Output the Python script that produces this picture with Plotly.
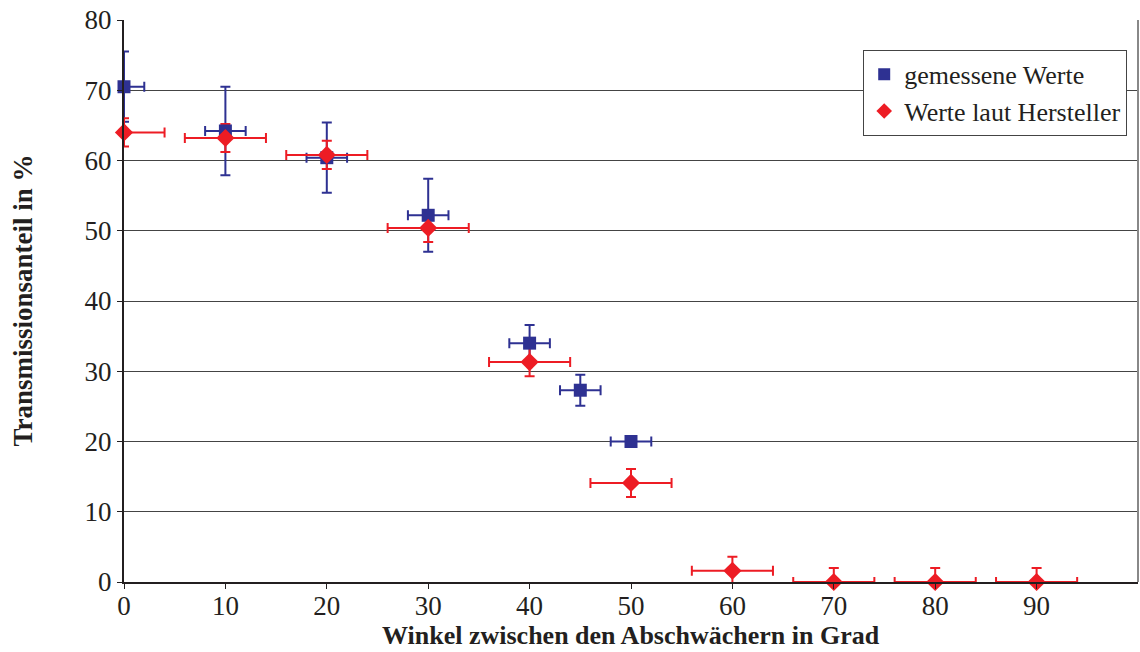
import plotly.graph_objects as go

# measured values (blue)
x_meas = [0, 10, 20, 30, 40, 45, 50]
y_meas = [70.5, 64.2, 60.4, 52.2, 34.0, 27.3, 20.0]
ey_meas = [5.0, 6.3, 5.0, 5.2, 2.6, 2.2, 0.5]
ex_meas = [2, 2, 2, 2, 2, 2, 2]

# manufacturer values (red)
x_man = [0, 10, 20, 30, 40, 50, 60, 70, 80, 90]
y_man = [64.0, 63.2, 60.8, 50.4, 31.3, 14.1, 1.6, 0, 0, 0]
ey_man = [2, 2, 2, 2, 2, 2, 2, 2, 2, 2]
ex_man = [4, 4, 4, 4, 4, 4, 4, 4, 4, 4]

x_ticks = [0, 10, 20, 30, 40, 50, 60, 70, 80, 90]
y_ticks = [0, 10, 20, 30, 40, 50, 60, 70, 80]

x_title = "Winkel zwischen den Abschwächern in Grad"
y_title = "Transmissionsanteil in %"

BLUE = "#2E3192"
RED = "#ED1C24"
FONT = "Liberation Serif, Times New Roman, serif"

fig = go.Figure()

# error bars (clipped to plot area)
fig.add_trace(go.Scatter(
    x=x_meas, y=y_meas, mode="markers", showlegend=False, hoverinfo="skip",
    marker=dict(size=1, color="rgba(0,0,0,0)"),
    error_y=dict(type="data", array=ey_meas, color=BLUE, thickness=2, width=5),
    error_x=dict(type="data", array=ex_meas, color=BLUE, thickness=2, width=5),
))
fig.add_trace(go.Scatter(
    x=x_man, y=y_man, mode="markers", showlegend=False, hoverinfo="skip",
    marker=dict(size=1, color="rgba(0,0,0,0)"),
    error_y=dict(type="data", array=ey_man, color=RED, thickness=2, width=5),
    error_x=dict(type="data", array=ex_man, color=RED, thickness=2, width=5),
))
# markers (not clipped)
fig.add_trace(go.Scatter(
    x=x_meas, y=y_meas, mode="markers", name="gemessene Werte", cliponaxis=False,
    marker=dict(symbol="square", size=13, color=BLUE),
))
fig.add_trace(go.Scatter(
    x=x_man, y=y_man, mode="markers", name="Werte laut Hersteller", cliponaxis=False,
    marker=dict(symbol="diamond", size=14, color=RED),
))

fig.update_layout(
    width=1140, height=652,
    margin=dict(l=124, r=2, t=20, b=70),
    paper_bgcolor="white", plot_bgcolor="white",
    font=dict(family=FONT, size=27, color="#231F20"),
    legend=dict(
        x=0.729, y=0.947, xanchor="left", yanchor="top",
        bgcolor="white", bordercolor="#444", borderwidth=1,
        font=dict(family=FONT, size=26, color="#231F20"),
        itemsizing="constant", tracegroupgap=0,
    ),
    xaxis=dict(
        range=[0, 100], tickvals=x_ticks, ticktext=[str(v) for v in x_ticks],
        showgrid=False, zeroline=False, automargin=False,
        showline=True, linecolor="#231F20", linewidth=2, mirror=False,
        ticks="outside", ticklen=5, tickcolor="#231F20",
        ticklabelstandoff=-6,
        tickfont=dict(family=FONT, size=27),
    ),
    yaxis=dict(
        range=[0, 80], tickvals=y_ticks, ticktext=[str(v) for v in y_ticks],
        showgrid=True, gridcolor="#444", gridwidth=1, zeroline=False, automargin=False,
        showline=True, linecolor="#231F20", linewidth=2,
        ticks="outside", ticklen=5, tickcolor="#231F20",
        tickfont=dict(family=FONT, size=27),
    ),
    annotations=[
        dict(text="<b>" + x_title + "</b>", xref="paper", yref="paper",
             x=0.5, y=-0.1245, xanchor="center", yanchor="bottom", showarrow=False,
             font=dict(family=FONT, size=26, color="#231F20")),
        dict(text="<b>" + y_title + "</b>", xref="paper", yref="paper",
             x=-0.1, y=0.50, xanchor="center", yanchor="middle", showarrow=False,
             textangle=-90, font=dict(family=FONT, size=27, color="#231F20")),
    ],
)

# right border of plot area
fig.add_shape(type="line", xref="paper", yref="paper", x0=1, x1=1, y0=0, y1=1,
              line=dict(color="#888", width=2))

fig.write_html("out.html")
